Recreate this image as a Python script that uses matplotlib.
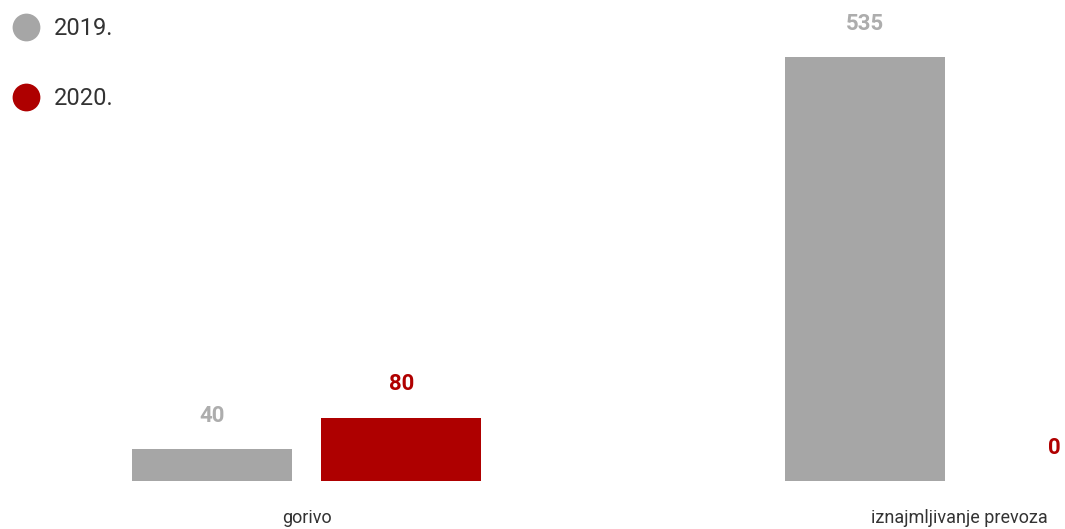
import numpy as np
import matplotlib
matplotlib.use('Agg')
import matplotlib.pyplot as plt
from matplotlib.lines import Line2D

plt.rcParams['font.family'] = ['Roboto', 'DejaVu Sans']

# data
categories = ["gorivo", "iznajmljivanje prevoza"]
years = ["2019.", "2020."]
values_2019 = [40, 535]
values_2020 = [80, 0]

colors = ["#A6A6A6", "#AE0000"]
label_colors = ["#ADADAD", "#B00000"]

fig = plt.figure(figsize=(10.65, 5.29), dpi=100)
# axes: baseline at 481 px from top, full width
ax = fig.add_axes([0, 48 / 529, 1, 481 / 529])

x = np.arange(len(categories))
off = 0.145
width = 0.245

for i, (vals, c, lc) in enumerate(zip([values_2019, values_2020], colors, label_colors)):
    pos = x + (off if i else -off)
    ax.bar(pos, vals, width=width, color=c, edgecolor='none')
    for p, v in zip(pos, vals):
        ax.annotate(str(v), (p, v), xytext=(0, 16), textcoords='offset points',
                    ha='center', va='bottom', fontsize=16, fontweight='bold', color=lc)

ax.set_xlim(-0.47, 1.162)
ax.set_ylim(0, 481 / (424 / 535))
ax.set_xticks(x)
ax.set_xticklabels(categories, fontsize=13, color="#333333")
ax.tick_params(axis='x', length=0, pad=20)
ax.set_yticks([])
for s in ax.spines.values():
    s.set_visible(False)

handles = [Line2D([], [], marker='o', linestyle='none', markersize=20,
                  markerfacecolor=c, markeredgecolor='none') for c in colors]
fig.legend(handles, years, loc='upper left', bbox_to_anchor=(0.004, 0.981),
           frameon=False, fontsize=17, labelcolor="#333333",
           labelspacing=2.0, handlelength=1.2, handletextpad=0.6,
           borderpad=0.0, borderaxespad=0.3)

fig.savefig("out.png", dpi=100)
